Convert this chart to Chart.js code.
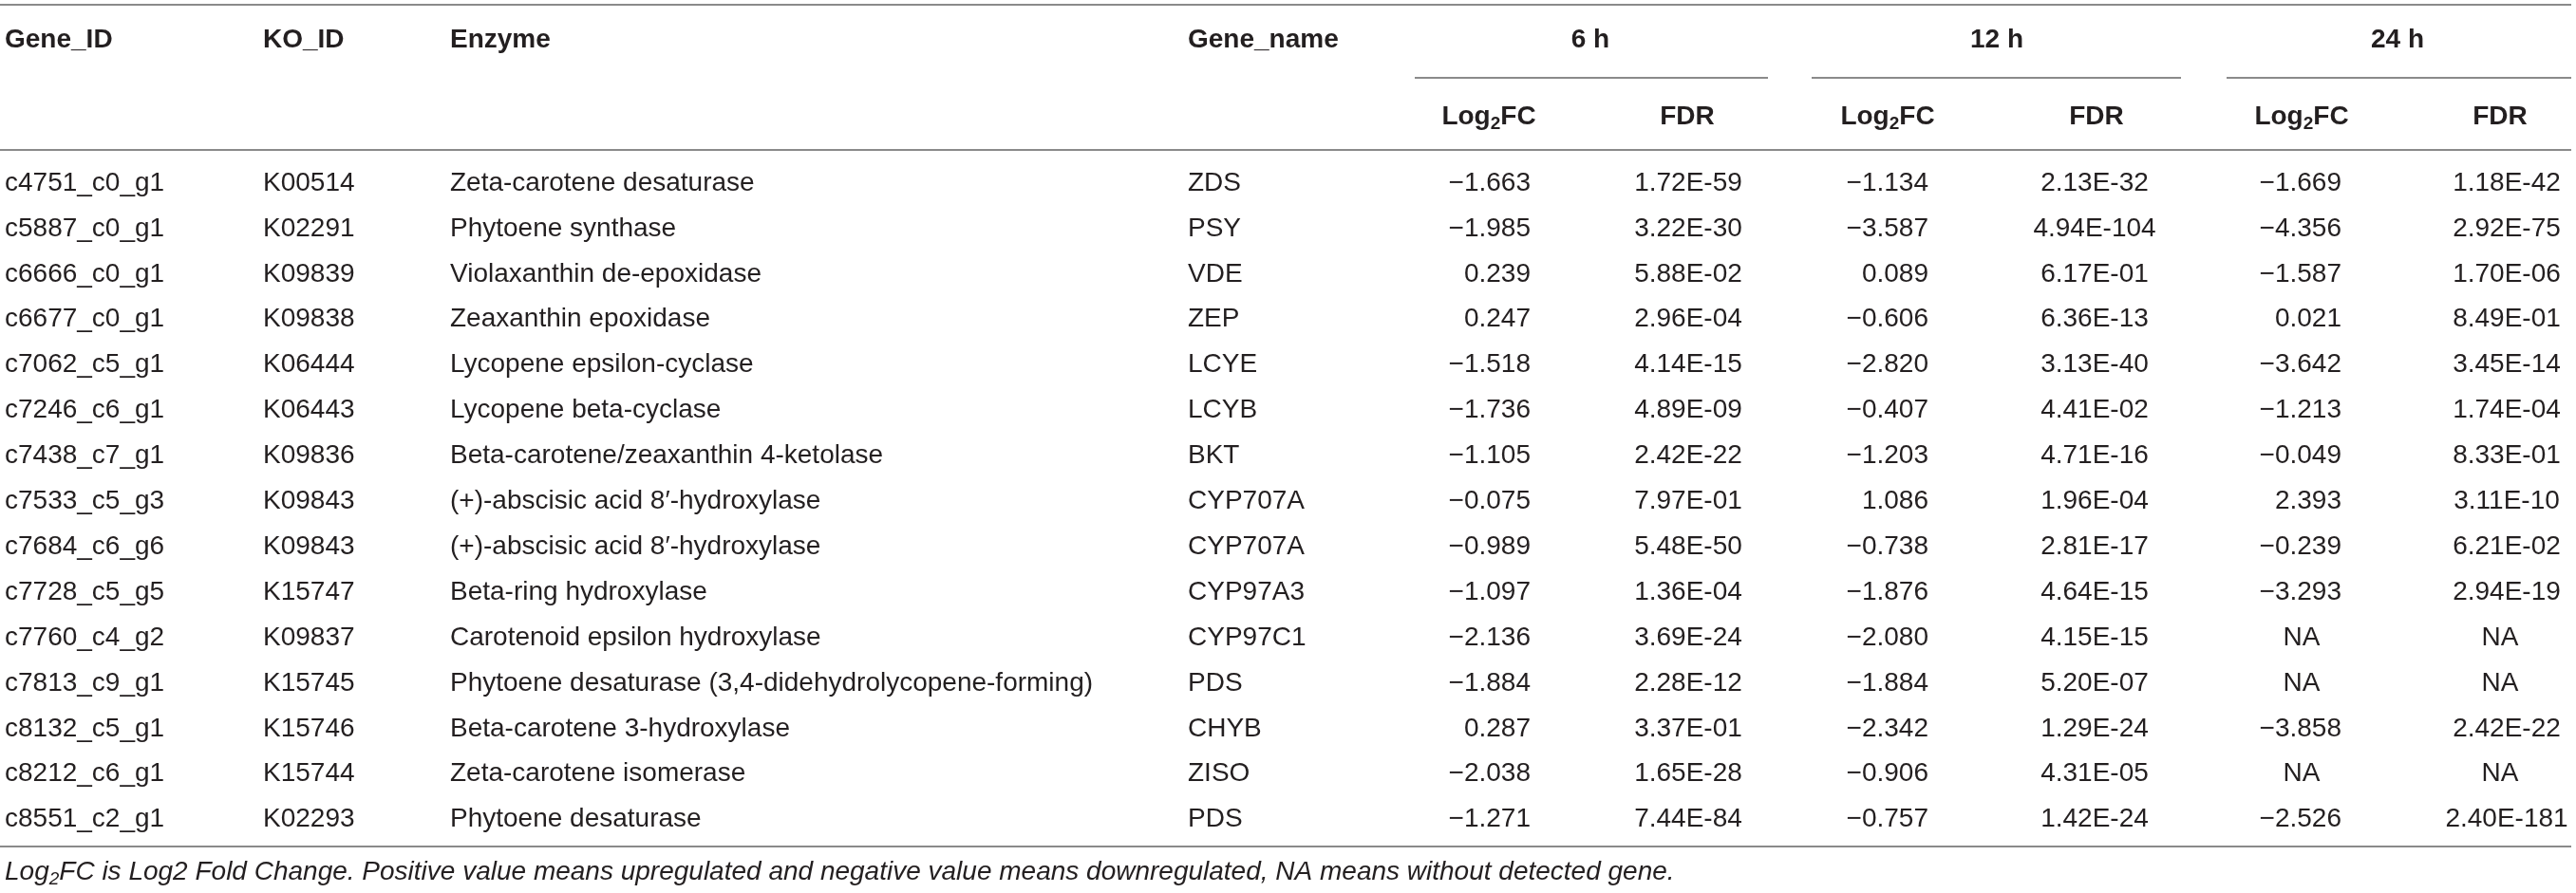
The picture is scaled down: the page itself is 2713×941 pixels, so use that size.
<!DOCTYPE html>
<html>
<head>
<meta charset="utf-8">
<script src="https://cdn.jsdelivr.net/npm/chart.js@4.4.0/dist/chart.umd.min.js"></script>
<style>
  html,body{margin:0;padding:0;background:#fff;}
  #wrap{width:2713px;height:941px;position:relative;}
</style>
</head>
<body>
<div id="wrap"><canvas id="tbl"></canvas></div>
<script>
// table values
const geneIds = ['c4751_c0_g1','c5887_c0_g1','c6666_c0_g1','c6677_c0_g1','c7062_c5_g1','c7246_c6_g1','c7438_c7_g1','c7533_c5_g3','c7684_c6_g6','c7728_c5_g5','c7760_c4_g2','c7813_c9_g1','c8132_c5_g1','c8212_c6_g1','c8551_c2_g1'];
const koIds = ['K00514','K02291','K09839','K09838','K06444','K06443','K09836','K09843','K09843','K15747','K09837','K15745','K15746','K15744','K02293'];
const enzymes = ['Zeta-carotene desaturase','Phytoene synthase','Violaxanthin de-epoxidase','Zeaxanthin epoxidase','Lycopene epsilon-cyclase','Lycopene beta-cyclase','Beta-carotene/zeaxanthin 4-ketolase','(+)-abscisic acid 8\u2032-hydroxylase','(+)-abscisic acid 8\u2032-hydroxylase','Beta-ring hydroxylase','Carotenoid epsilon hydroxylase','Phytoene desaturase (3,4-didehydrolycopene-forming)','Beta-carotene 3-hydroxylase','Zeta-carotene isomerase','Phytoene desaturase'];
const geneNames = ['ZDS','PSY','VDE','ZEP','LCYE','LCYB','BKT','CYP707A','CYP707A','CYP97A3','CYP97C1','PDS','CHYB','ZISO','PDS'];
const fc6 = [-1.663,-1.985,0.239,0.247,-1.518,-1.736,-1.105,-0.075,-0.989,-1.097,-2.136,-1.884,0.287,-2.038,-1.271];
const fdr6 = [1.72e-59,3.22e-30,5.88e-2,2.96e-4,4.14e-15,4.89e-9,2.42e-22,7.97e-1,5.48e-50,1.36e-4,3.69e-24,2.28e-12,3.37e-1,1.65e-28,7.44e-84];
const fc12 = [-1.134,-3.587,0.089,-0.606,-2.820,-0.407,-1.203,1.086,-0.738,-1.876,-2.080,-1.884,-2.342,-0.906,-0.757];
const fdr12 = [2.13e-32,4.94e-104,6.17e-1,6.36e-13,3.13e-40,4.41e-2,4.71e-16,1.96e-4,2.81e-17,4.64e-15,4.15e-15,5.20e-7,1.29e-24,4.31e-5,1.42e-24];
const fc24 = [-1.669,-4.356,-1.587,0.021,-3.642,-1.213,-0.049,2.393,-0.239,-3.293,null,null,-3.858,null,-2.526];
const fdr24 = [1.18e-42,2.92e-75,1.70e-6,8.49e-1,3.45e-14,1.74e-4,8.33e-1,3.11e-10,6.21e-2,2.94e-19,null,null,2.42e-22,null,2.40e-181];
const groupLabels = ['6 h','12 h','24 h'];
const topHeaders = ['Gene_ID','KO_ID','Enzyme','Gene_name'];
const footnote = 'FC is Log2 Fold Change. Positive value means upregulated and negative value means downregulated, NA means without detected gene.';

// layout (x in page px, y in row units)
const W = 2713, RULE_END = 2708, ROW0 = 193, STEP = 47.9;
const rowY = px => (px - ROW0) / STEP;
const Y = {top: rowY(5), head: rowY(42), group: rowY(82), sub: rowY(123), headRule: rowY(158), bottom: rowY(892), note: rowY(919)};
const textCols = [5, 277, 474, 1251];
const numCols = [ // right-aligned Log2FC, centered FDR; NA centered under header
  {x:1612, align:'right', na:1568}, {x:1778, align:'center', na:1777},
  {x:2031, align:'right', na:1988}, {x:2206, align:'center', na:2208},
  {x:2466, align:'right', na:2424}, {x:2640, align:'center', na:2633}
];
const groupSpans = [[1490,1862],[1908,2297],[2345,RULE_END]];
const groupCenters = [1675,2103,2525];
const subCenters = [[1568,1777],[1988,2208],[2424,2633]];

const INK = '#231f20', RULE = '#8a8a8a';
const FAM = '"Liberation Sans", Arial, Helvetica, sans-serif';
const FS = 28, SUB = 19;

const fmtFC = v => v == null ? 'NA' : (v < 0 ? '\u2212' : '') + Math.abs(v).toFixed(3);
const fmtFDR = v => {
  if (v == null) return 'NA';
  const [m, e] = v.toExponential(2).split('e');
  return m + 'E' + e[0] + e.slice(1).padStart(2, '0');
};

const textSets = [geneIds, koIds, enzymes, geneNames];
const numSets = [[fc6,fmtFC],[fdr6,fmtFDR],[fc12,fmtFC],[fdr12,fmtFDR],[fc24,fmtFC],[fdr24,fmtFDR]];

const datasets = [];
textSets.forEach((arr, c) => datasets.push({
  data: arr.map((v, i) => ({x: textCols[c], y: i})),
  cells: arr.slice(), aligns: arr.map(() => 'left'),
  pointRadius: 0, showLine: false
}));
numSets.forEach(([arr, fmt], c) => datasets.push({
  data: arr.map((v, i) => ({x: v == null ? numCols[c].na : numCols[c].x, y: i})),
  cells: arr.map(fmt), aligns: arr.map(v => v == null ? 'center' : numCols[c].align),
  pointRadius: 0, showLine: false
}));

// draws runs of text, some as subscripts
function rich(ctx, parts, x, y, align, weight, style) {
  const f = (sz) => `${style||'normal'} ${weight||'normal'} ${sz}px ${FAM}`;
  let w = 0;
  parts.forEach(p => { ctx.font = f(p.sub ? SUB : FS); p.w = ctx.measureText(p.t).width; w += p.w; });
  let cx = align === 'center' ? x - w/2 : align === 'right' ? x - w : x;
  ctx.textAlign = 'left';
  parts.forEach(p => {
    ctx.font = f(p.sub ? SUB : FS);
    ctx.fillText(p.t, cx, p.sub ? y + 8 : y);
    cx += p.w;
  });
}

const tablePlugin = {
  id: 'tableText',
  afterDatasetsDraw(chart) {
    const {ctx, scales: {x, y}} = chart;
    ctx.save();
    ctx.strokeStyle = RULE; ctx.lineWidth = 2;
    const hline = (a, b, v) => {
      const py = Math.round(y.getPixelForValue(v));
      ctx.beginPath(); ctx.moveTo(x.getPixelForValue(a), py); ctx.lineTo(x.getPixelForValue(b), py); ctx.stroke();
    };
    hline(0, RULE_END, Y.top); hline(0, RULE_END, Y.headRule); hline(0, RULE_END, Y.bottom);
    groupSpans.forEach(s => hline(s[0], s[1], Y.group));

    ctx.fillStyle = INK;
    ctx.textBaseline = 'middle';
    ctx.font = `bold ${FS}px ${FAM}`;
    ctx.textAlign = 'left';
    topHeaders.forEach((h, i) => ctx.fillText(h, x.getPixelForValue(textCols[i]), y.getPixelForValue(Y.head)));
    ctx.textAlign = 'center';
    groupLabels.forEach((g, i) => ctx.fillText(g, x.getPixelForValue(groupCenters[i]), y.getPixelForValue(Y.head)));
    subCenters.forEach(([a, b]) => {
      const py = y.getPixelForValue(Y.sub);
      rich(ctx, [{t:'Log'},{t:'2',sub:true},{t:'FC'}], x.getPixelForValue(a), py, 'center', 'bold');
      ctx.font = `bold ${FS}px ${FAM}`; ctx.textAlign = 'center';
      ctx.fillText('FDR', x.getPixelForValue(b), py);
    });

    ctx.font = `${FS}px ${FAM}`;
    chart.data.datasets.forEach((ds, di) => {
      chart.getDatasetMeta(di).data.forEach((el, i) => {
        ctx.textAlign = ds.aligns[i];
        ctx.fillText(ds.cells[i], el.x, el.y);
      });
    });

    rich(ctx, [{t:'Log'},{t:'2',sub:true},{t:footnote}], x.getPixelForValue(5), y.getPixelForValue(Y.note), 'left', 'normal', 'italic');
    ctx.restore();
  }
};

new Chart(document.getElementById('tbl'), {
  type: 'scatter',
  data: {datasets},
  options: {
    responsive: true, maintainAspectRatio: false, animation: false, events: [],
    layout: {padding: 0},
    scales: {
      x: {type: 'linear', min: 0, max: W, display: false},
      y: {type: 'linear', min: rowY(0), max: rowY(941), reverse: true, display: false}
    },
    plugins: {legend: {display: false}, tooltip: {enabled: false}}
  },
  plugins: [tablePlugin]
});
</script>
</body>
</html>
